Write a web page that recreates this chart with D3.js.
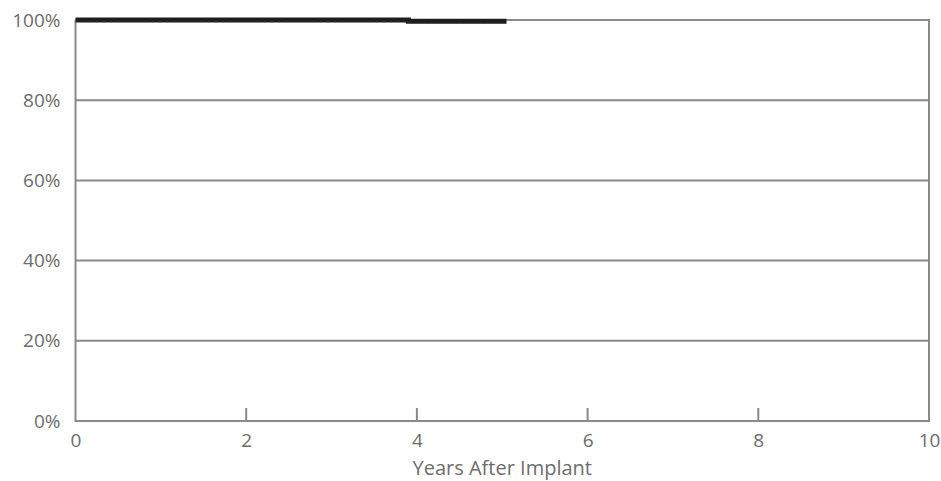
<!DOCTYPE html>
<html><head><meta charset="utf-8">
<script src="https://cdn.jsdelivr.net/npm/d3@7"></script>
<style>body{margin:0;background:#fff}svg{display:block}text{font-family:"Open Sans",sans-serif;fill:#6d6d6d}</style>
</head><body><svg id="c" width="941" height="481"></svg>
<script>
const years = [0, 3.9, 5.05];
const survival = [100, 99.7, 99.7];
const xTicks = [0, 2, 4, 6, 8, 10];
const yTicks = [0, 20, 40, 60, 80, 100];
const xTitle = "Years After Implant";

const svg = d3.select("#c");
const m = {l: 75.5, r: 929, t: 20, b: 421};
const x = d3.scaleLinear().domain([0, 10]).range([m.l, m.r]);
const y = d3.scaleLinear().domain([0, 100]).range([m.b, m.t]);
const grey = "#8a8a8a";

// gridlines
svg.append("g").selectAll("line").data(yTicks).join("line")
  .attr("x1", m.l).attr("x2", m.r).attr("y1", d => y(d)).attr("y2", d => y(d))
  .attr("stroke", grey).attr("stroke-width", 2);
// left/right borders
svg.append("line").attr("x1", m.l).attr("x2", m.l).attr("y1", m.t).attr("y2", m.b + 1).attr("stroke", grey).attr("stroke-width", 2);
svg.append("line").attr("x1", m.r).attr("x2", m.r).attr("y1", m.t - 1).attr("y2", m.b + 1).attr("stroke", grey).attr("stroke-width", 2);

// x axis
const xa = svg.append("g").attr("transform", `translate(0,${m.b})`)
  .call(d3.axisBottom(x).tickValues(xTicks).tickSize(0).tickPadding(12.5).tickFormat(d3.format("d")));
xa.select(".domain").remove();
xa.selectAll("text").attr("font-size", 19).style("fill", "#6d6d6d").attr("font-family", "Open Sans");
svg.append("g").selectAll("line").data(xTicks.slice(1, -1)).join("line")
  .attr("x1", d => x(d)).attr("x2", d => x(d)).attr("y1", m.b).attr("y2", m.b - 13)
  .attr("stroke", grey).attr("stroke-width", 2);

// y axis labels
const ya = svg.append("g").attr("transform", `translate(${m.l},0)`)
  .call(d3.axisLeft(y).tickValues(yTicks).tickSize(0).tickPadding(15).tickFormat(d => d + "%"));
ya.select(".domain").remove();
ya.selectAll("text").attr("font-size", 19).style("fill", "#6d6d6d").attr("font-family", "Open Sans");

svg.append("text").attr("x", (m.l + m.r) / 2).attr("y", 475).attr("text-anchor", "middle")
  .attr("font-size", 20).text(xTitle);

// KM curve
const pts = years.map((d, i) => [d, survival[i]]);
const line = d3.line().x(d => x(d[0])).y(d => y(d[1])).curve(d3.curveStepAfter);
svg.append("path").attr("d", line(pts)).attr("fill", "none").attr("stroke", "#1e1e1e").attr("stroke-width", 5);
svg.append("path").attr("d", line(pts)).attr("fill", "none").attr("stroke", "#555").attr("stroke-width", 1)
  .attr("stroke-dasharray", "1,6").attr("transform", "translate(0,2)");
</script></body></html>
